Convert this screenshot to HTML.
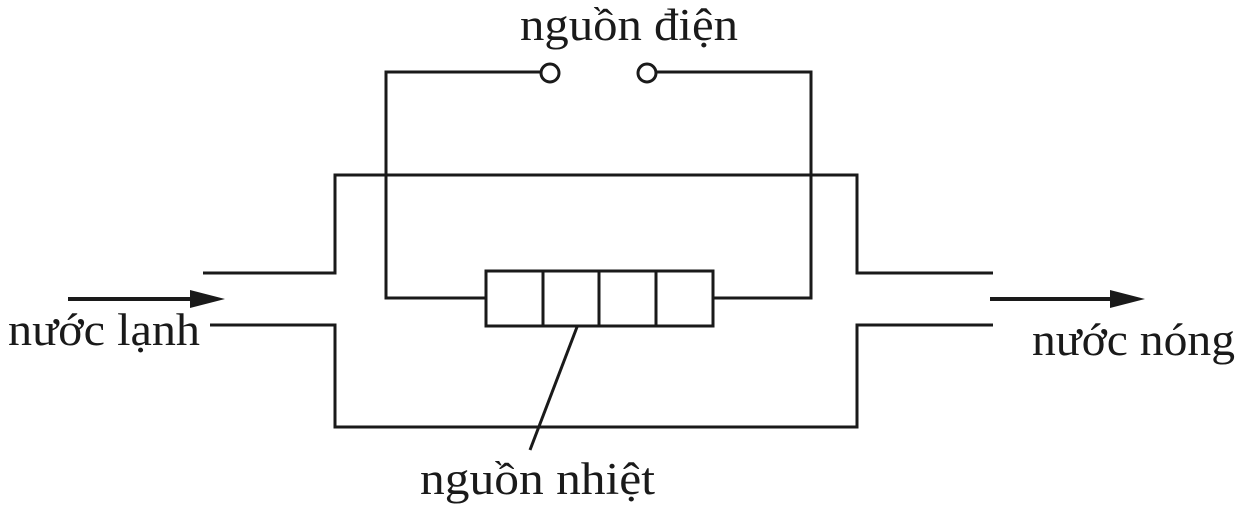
<!DOCTYPE html>
<html><head><meta charset="utf-8"><style>body{margin:0;background:#fff}svg{display:block}</style></head><body>
<svg width="1242" height="512" viewBox="0 0 1242 512" xmlns="http://www.w3.org/2000/svg">
<g fill="none" stroke="#1a1a1a" stroke-width="3">
<polyline points="203,273 335,273 335,175 857,175 857,273 993,273"/>
<polyline points="210,325 335,325 335,427 857,427 857,325 993,325"/>
<polyline points="486,298 386,298 386,72 541,72"/>
<polyline points="713,298 811,298 811,72 656,72"/>
<circle cx="550" cy="73" r="9"/>
<circle cx="647" cy="73" r="9"/>
<rect x="486" y="271" width="227" height="55"/>
<line x1="543" y1="271" x2="543" y2="326"/>
<line x1="599" y1="271" x2="599" y2="326"/>
<line x1="656" y1="271" x2="656" y2="326"/>
<line x1="577" y1="327" x2="530" y2="450"/>
<line x1="68" y1="299" x2="195" y2="299" stroke-width="4"/>
<line x1="990" y1="299" x2="1115" y2="299" stroke-width="4"/>
</g>
<polygon points="190,290 225,299 190,308" fill="#1a1a1a"/>
<polygon points="1110,290 1145,299 1110,308" fill="#1a1a1a"/>
<g font-family="'Liberation Serif',serif" font-size="45" fill="#1a1a1a" lengthAdjust="spacingAndGlyphs">
<text x="520" y="40" textLength="218" lengthAdjust="spacingAndGlyphs">nguồn điện</text>
<text x="8" y="345" textLength="192" lengthAdjust="spacingAndGlyphs">nước lạnh</text>
<text x="1032" y="355" textLength="203" lengthAdjust="spacingAndGlyphs">nước nóng</text>
<text x="420" y="494" textLength="235" lengthAdjust="spacingAndGlyphs">nguồn nhiệt</text>
</g>
</svg>
</body></html>
